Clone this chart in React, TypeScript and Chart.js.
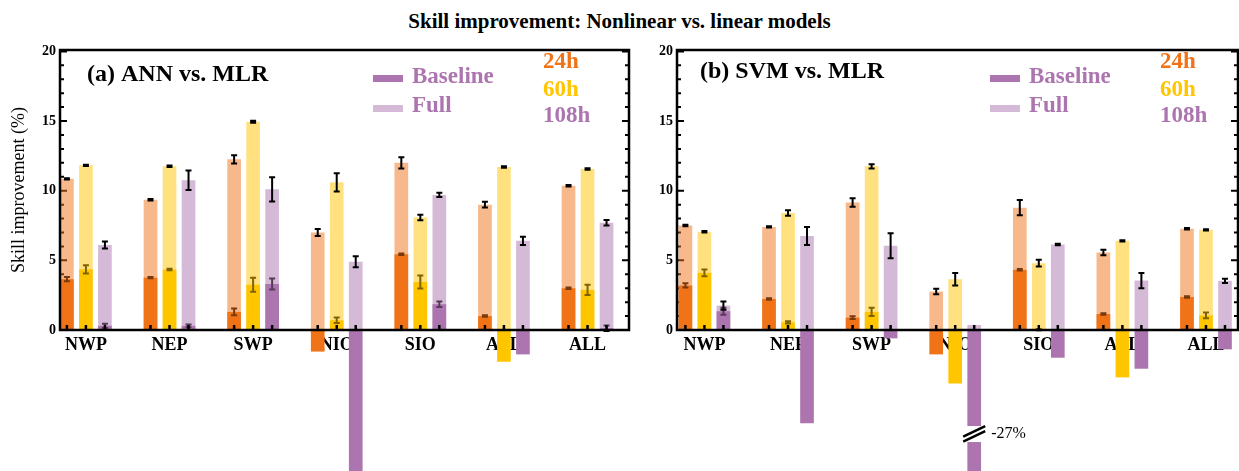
import { useEffect, useRef } from 'react';
import { Chart, registerables } from 'chart.js';

Chart.register(...registerables);

// ---------- data ----------
const categories = ['NWP', 'NEP', 'SWP', 'NIO', 'SIO', 'ATL', 'ALL'];
const positions = [0, 1, 2, 3, 4, 5, 6];
const yTickValues = [0, 5, 10, 15, 20];
const leadTimes = ['24h', '60h', '108h'];
const legendLabels = ['Baseline', 'Full'];

// Panel (a) ANN vs. MLR
const fullA24 = [10.85, 9.35, 12.25, 7.0, 12.0, 9.0, 10.36];
const fullA24Err = [0.05, 0.05, 0.3, 0.25, 0.4, 0.2, 0.05];
const baseA24 = [3.65, 3.76, 1.3, -1.55, 5.44, 1.0, 3.0];
const baseA24Err = [0.15, 0.05, 0.25, 0, 0.05, 0.05, 0.05];
const fullA60 = [11.82, 11.75, 14.95, 10.6, 8.08, 11.7, 11.56];
const fullA60Err = [0.05, 0.05, 0.08, 0.65, 0.2, 0.05, 0.05];
const baseA60 = [4.35, 4.34, 3.25, 0.7, 3.45, -2.28, 2.88];
const baseA60Err = [0.3, 0.05, 0.5, 0.2, 0.47, 0, 0.36];
const fullA108 = [6.1, 10.75, 10.1, 4.9, 9.7, 6.4, 7.7];
const fullA108Err = [0.25, 0.7, 0.87, 0.4, 0.15, 0.3, 0.2];
const baseA108 = [0.3, 0.3, 3.3, -12, 1.85, -1.75, 0.12];
const baseA108Err = [0.15, 0.1, 0.4, 0, 0.2, 0, 0.2];

// Panel (b) SVM vs. MLR
const fullB24 = [7.5, 7.4, 9.15, 2.76, 8.78, 5.56, 7.27];
const fullB24Err = [0.05, 0.05, 0.3, 0.2, 0.55, 0.2, 0.05];
const baseB24 = [3.2, 2.23, 0.89, -1.75, 4.32, 1.15, 2.37];
const baseB24Err = [0.15, 0.05, 0.1, 0, 0.05, 0.05, 0.05];
const fullB60 = [7.05, 8.4, 11.75, 3.65, 4.8, 6.4, 7.19];
const fullB60Err = [0.05, 0.2, 0.15, 0.45, 0.25, 0.05, 0.05];
const baseB60 = [4.1, 0.55, 1.3, -3.84, 0.03, -3.4, 1.05];
const baseB60Err = [0.25, 0.08, 0.3, 0, 0.05, 0, 0.2];
const fullB108 = [1.75, 6.75, 6.05, 0.36, 6.14, 3.55, 3.53];
const fullB108Err = [0.3, 0.65, 0.9, 0, 0.05, 0.55, 0.15];
const baseB108 = [1.35, -6.7, -0.6, -27, -1.99, -2.78, -1.39];
const baseB108Err = [0.25, 0, 0, 0, 0, 0, 0];

// ---------- style ----------
const FONT = "'Liberation Serif', 'Times New Roman', serif";
const ORANGE = '#F07318';
const YELLOW = '#FFC600';
const PURPLE = '#AC75AF';
const COLORS = [ORANGE, YELLOW, PURPLE];

function rgba(hex: string, a: number) {
  const n = parseInt(hex.slice(1), 16);
  return `rgba(${(n >> 16) & 255},${(n >> 8) & 255},${n & 255},${a})`;
}

type Panel = {
  label: string;
  full: number[][];
  fullErr: number[][];
  base: number[][];
  baseErr: number[][];
  xMin: number;
  xMax: number;
  axisWidth: number;
  rightPad: number;
  yTitle: boolean;
  labelDx: number;
  labelY: number;
  breakIndex?: number;
  breakAt?: number;
};

const panelA: Panel = {
  label: '(a) ANN vs. MLR',
  full: [fullA24, fullA60, fullA108],
  fullErr: [fullA24Err, fullA60Err, fullA108Err],
  base: [baseA24, baseA60, baseA108],
  baseErr: [baseA24Err, baseA60Err, baseA108Err],
  xMin: -0.31,
  xMax: 6.496,
  axisWidth: 60,
  rightPad: 11,
  yTitle: true,
  labelDx: 27,
  labelY: 75,
};

const panelB: Panel = {
  label: '(b) SVM vs. MLR',
  full: [fullB24, fullB60, fullB108],
  fullErr: [fullB24Err, fullB60Err, fullB108Err],
  base: [baseB24, baseB60, baseB108],
  baseErr: [baseB24Err, baseB60Err, baseB108Err],
  xMin: -0.328,
  xMax: 6.383,
  axisWidth: 37,
  rightPad: 1,
  yTitle: false,
  labelDx: 23,
  labelY: 72,
  breakIndex: 3,
  breakAt: -7.47,
};

function makePlugin(p: Panel) {
  return {
    id: 'panelDecor',
    beforeDatasetsDraw(chart: any) {
      const { ctx, chartArea } = chart;
      const { left, right } = chartArea;
      const y = chart.scales.y;
      ctx.save();
      ctx.strokeStyle = '#000';
      ctx.lineWidth = 2;
      for (let v = 0; v <= 20; v += 1) {
        const py = y.getPixelForValue(v);
        const len = v % 5 === 0 ? 7 : 4;
        ctx.beginPath();
        ctx.moveTo(left, py);
        ctx.lineTo(left + len, py);
        ctx.moveTo(right, py);
        ctx.lineTo(right - len, py);
        ctx.stroke();
      }
      ctx.restore();
    },
    afterDatasetDraw(chart: any, args: any) {
      const ds: any = chart.data.datasets[args.index];
      const errs: number[] | undefined = ds.errors;
      if (!errs) return;
      const y = chart.scales.y;
      const ctx = chart.ctx;
      ctx.save();
      ctx.strokeStyle = '#000';
      ctx.lineWidth = 2;
      args.meta.data.forEach((bar: any, j: number) => {
        const e = errs[j];
        const v = ds.data[j];
        if (!(e > 0)) return;
        const y1 = y.getPixelForValue(v - e);
        const y2 = y.getPixelForValue(v + e);
        const x = bar.x;
        ctx.beginPath();
        ctx.moveTo(x, y1);
        ctx.lineTo(x, y2);
        ctx.moveTo(x - 3, y1);
        ctx.lineTo(x + 3, y1);
        ctx.moveTo(x - 3, y2);
        ctx.lineTo(x + 3, y2);
        ctx.stroke();
      });
      ctx.restore();
    },
    afterDatasetsDraw(chart: any) {
      const { ctx, chartArea } = chart;
      const { left, right, top, bottom } = chartArea;
      const y = chart.scales.y;
      ctx.save();

      // break mark on the very long bar
      if (p.breakIndex !== undefined) {
        const idx = chart.data.datasets.findIndex((d: any) => d.kind === 'base' && d.lead === 2);
        const bar: any = chart.getDatasetMeta(idx).data[p.breakIndex];
        const value = chart.data.datasets[idx].data[p.breakIndex];
        const cx = bar.x;
        const w = bar.width;
        const gc = y.getPixelForValue(p.breakAt);
        ctx.fillStyle = '#fff';
        ctx.fillRect(cx - w / 2 - 1, gc - 8, w + 2, 16);
        ctx.strokeStyle = '#000';
        ctx.lineWidth = 2.5;
        ctx.beginPath();
        ctx.moveTo(cx - 11, gc - 2.7 + 5.35);
        ctx.lineTo(cx + 11, gc - 2.7 - 5.35);
        ctx.moveTo(cx - 11, gc + 2.3 + 5.35);
        ctx.lineTo(cx + 11, gc + 2.3 - 5.35);
        ctx.stroke();
        ctx.fillStyle = '#000';
        ctx.font = `16px ${FONT}`;
        ctx.textAlign = 'left';
        ctx.textBaseline = 'middle';
        ctx.fillText(`${Math.round(value)}%`, cx + 17, gc);
      }

      // frame
      ctx.strokeStyle = '#000';
      ctx.lineWidth = 2.5;
      ctx.strokeRect(left, top, right - left, bottom - top);

      // x ticks at each bar
      ctx.lineWidth = 2.5;
      chart.data.datasets.forEach((d: any, i: number) => {
        if (d.kind !== 'full') return;
        chart.getDatasetMeta(i).data.forEach((bar: any) => {
          ctx.beginPath();
          ctx.moveTo(bar.x, bottom);
          ctx.lineTo(bar.x, bottom - 5);
          ctx.stroke();
        });
      });

      // panel label
      ctx.fillStyle = '#000';
      ctx.font = `bold 24px ${FONT}`;
      ctx.textAlign = 'left';
      ctx.textBaseline = 'middle';
      ctx.fillText(p.label, left + p.labelDx, p.labelY);

      // legend: baseline / full
      ctx.fillStyle = PURPLE;
      ctx.fillRect(left + 313, 75, 30, 7);
      ctx.fillStyle = rgba(PURPLE, 0.5);
      ctx.fillRect(left + 313, 105, 30, 7);
      ctx.font = `bold 23px ${FONT}`;
      ctx.fillStyle = PURPLE;
      ctx.fillText(legendLabels[0], left + 352, 77);
      ctx.fillText(legendLabels[1], left + 352, 106);

      // legend: lead times
      const hy = [62, 90, 116];
      leadTimes.forEach((t, k) => {
        ctx.fillStyle = COLORS[k];
        ctx.fillText(t, left + 483, hy[k]);
      });
      ctx.restore();
    },
  };
}

function makeConfig(p: Panel): any {
  const stacks = ['h24', 'h60', 'h108'];
  const common = {
    clip: false,
    borderWidth: 0,
    categoryPercentage: 0.682,
    barPercentage: 0.72,
  };
  const datasets: any[] = [];
  for (let k = 0; k < 3; k++) {
    datasets.push({
      ...common,
      label: `Full ${leadTimes[k]}`,
      data: p.full[k],
      errors: p.fullErr[k],
      kind: 'full',
      lead: k,
      backgroundColor: rgba(COLORS[k], 0.5),
      order: 1,
      stack: stacks[k],
    });
  }
  for (let k = 0; k < 3; k++) {
    datasets.push({
      ...common,
      label: `Baseline ${leadTimes[k]}`,
      data: p.base[k],
      errors: p.baseErr[k],
      kind: 'base',
      lead: k,
      backgroundColor: COLORS[k],
      order: 2,
      stack: stacks[k],
    });
  }
  return {
    type: 'bar',
    data: { labels: positions, datasets },
    plugins: [makePlugin(p)],
    options: {
      responsive: false,
      animation: false,
      devicePixelRatio: 1,
      events: [],
      layout: { padding: { left: 0, top: 50, right: p.rightPad, bottom: 0 } },
      plugins: {
        legend: { display: false },
        tooltip: { enabled: false },
        title: { display: false },
      },
      scales: {
        x: {
          type: 'linear',
          min: p.xMin,
          max: p.xMax,
          offset: false,
          grid: { display: false, drawTicks: false },
          border: { display: false },
          ticks: {
            stepSize: 1,
            autoSkip: false,
            maxRotation: 0,
            padding: 5,
            color: '#000',
            font: { family: FONT, size: 18, weight: 'bold' },
            callback: (v: number) => categories[v] ?? '',
          },
          afterBuildTicks: (s: any) => {
            s.ticks = positions.map((v) => ({ value: v }));
          },
          afterFit: (s: any) => {
            s.height = 141;
          },
        },
        y: {
          type: 'linear',
          min: 0,
          max: 20.1,
          stacked: false,
          grid: { display: false, drawTicks: false },
          border: { display: false },
          ticks: {
            stepSize: 5,
            padding: 4,
            color: '#000',
            font: { family: FONT, size: 14, weight: 'bold' },
          },
          afterBuildTicks: (s: any) => {
            s.ticks = yTickValues.map((v) => ({ value: v }));
          },
          title: {
            display: p.yTitle,
            text: 'Skill improvement (%)',
            color: '#000',
            font: { family: FONT, size: 18 },
            padding: { top: 8, bottom: 0 },
          },
          afterFit: (s: any) => {
            s.width = p.axisWidth;
          },
        },
      },
    },
  };
}

export default function App() {
  const refA = useRef<HTMLCanvasElement>(null);
  const refB = useRef<HTMLCanvasElement>(null);

  useEffect(() => {
    document.body.style.margin = '0';
    const a = new Chart(refA.current as HTMLCanvasElement, makeConfig(panelA));
    const b = new Chart(refB.current as HTMLCanvasElement, makeConfig(panelB));
    return () => {
      a.destroy();
      b.destroy();
    };
  }, []);

  return (
    <div style={{ position: 'relative', width: 1239, height: 471, background: '#fff', overflow: 'hidden' }}>
      <div
        style={{
          position: 'absolute',
          left: 0,
          top: 8,
          width: 1239,
          textAlign: 'center',
          fontFamily: FONT,
          fontWeight: 'bold',
          fontSize: 21,
          lineHeight: '26px',
          color: '#000',
        }}
      >
        Skill improvement: Nonlinear vs. linear models
      </div>
      <div style={{ position: 'absolute', left: 0, top: 0, width: 640, height: 471 }}>
        <canvas ref={refA} width={640} height={471} />
      </div>
      <div style={{ position: 'absolute', left: 640, top: 0, width: 599, height: 471 }}>
        <canvas ref={refB} width={599} height={471} />
      </div>
    </div>
  );
}
